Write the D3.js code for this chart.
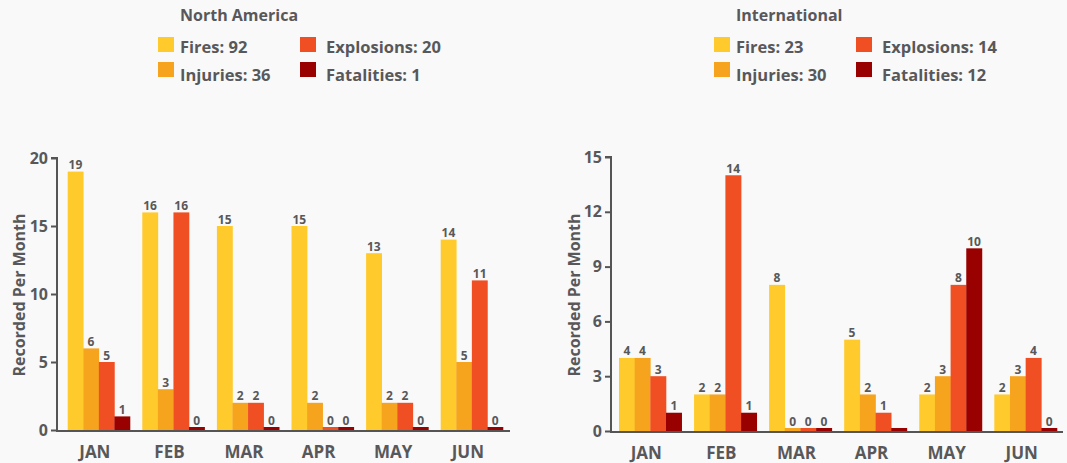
<!DOCTYPE html>
<html><head><meta charset="utf-8">
<script src="https://cdn.jsdelivr.net/npm/d3@7/dist/d3.min.js"></script>
<style>
html,body{margin:0;padding:0;background:#f9f9f9;}
svg{display:block;font-family:"Open Sans",Lato,sans-serif;font-weight:700;}
</style></head><body>
<svg id="c" width="1067" height="463"></svg>
<script>
const months = ["JAN","FEB","MAR","APR","MAY","JUN"];
const seriesNames = ["Fires","Injuries","Explosions","Fatalities"];
const colors = ["#ffca2b","#f6a31e","#f04e23","#990000"];

const naTitle = "North America";
const naTotals = [92, 36, 20, 1];
const naFires = [19, 16, 15, 15, 13, 14];
const naInjuries = [6, 3, 2, 2, 2, 5];
const naExplosions = [5, 16, 2, 0, 2, 11];
const naFatalities = [1, 0, 0, 0, 0, 0];
const naTicks = [0, 5, 10, 15, 20];

const intTitle = "International";
const intTotals = [23, 30, 14, 12];
const intFires = [4, 2, 8, 5, 2, 2];
const intInjuries = [4, 2, 0, 2, 3, 3];
const intExplosions = [3, 14, 0, 1, 8, 4];
const intFatalities = [1, 1, 0, null, 10, 0];
const intTicks = [0, 3, 6, 9, 12, 15];

const svg = d3.select("#c");
const textColor = "#58585a";

function drawLegend(x, title, totals){
  const g = svg.append("g").attr("transform", `translate(${x},0)`);
  g.append("text").attr("x", 22).attr("y", 21).attr("font-size", 16).attr("fill", textColor).text(title);
  [0,1,2,3].forEach(i => {
    const col = i < 2 ? 0 : 1;
    const row = i % 2;
    const sx = col * 142, sy = 37 + row * 25;
    g.append("rect").attr("x", sx).attr("y", sy).attr("width", 16).attr("height", 15).attr("fill", colors[i]);
    g.append("text").attr("x", sx + (col === 0 ? 22 : 26)).attr("y", row === 0 ? 53 : 81)
      .attr("font-size", 16.5).attr("fill", textColor)
      .text(`${seriesNames[i]}: ${totals[i]}`);
  });
}

function drawChart(opts){
  const {axisX, axisEnd, top, bottom, max, ticks, data, bandStart, bandEnd} = opts;
  const g = svg.append("g");
  const y = d3.scaleLinear().domain([0, max]).range([bottom, top]);
  const x0 = d3.scaleBand().domain(months).range([bandStart, bandEnd]).paddingInner(0.165).paddingOuter(0);
  const x1 = d3.scaleBand().domain(d3.range(4)).range([0, x0.bandwidth()]);

  months.forEach((m, mi) => {
    const gg = g.append("g").attr("transform", `translate(${x0(m)},0)`);
    data.forEach((s, si) => {
      const v = s[mi];
      const val = v == null ? 0 : v;
      const yTop = Math.min(y(val), bottom - 3);
      gg.append("rect").attr("x", x1(si)).attr("width", x1.bandwidth() + 0.3)
        .attr("y", yTop).attr("height", bottom - yTop).attr("fill", colors[si]);
      if (v != null) {
        gg.append("text").attr("x", x1(si) + x1.bandwidth()/2).attr("y", yTop - 2.5)
          .attr("text-anchor", "middle").attr("font-size", 12).attr("fill", textColor).text(v);
      }
    });
  });

  const ya = d3.axisLeft(y).tickValues(ticks).tickSize(6).tickPadding(3);
  const yg = g.append("g").attr("transform", `translate(${axisX},0)`).call(ya);
  yg.select(".domain").attr("stroke", "#555").attr("stroke-width", 2).attr("d", `M-6,${top}H0V${bottom}`);
  yg.selectAll(".tick line").attr("stroke", "#555").attr("stroke-width", 2);
  yg.selectAll(".tick text").attr("font-size", 16).attr("fill", textColor)
    .attr("font-family", "'Open Sans', sans-serif").attr("font-weight", 700);

  g.append("line").attr("x1", axisX - 1).attr("x2", axisEnd).attr("y1", bottom + 1).attr("y2", bottom + 1)
    .attr("stroke", "#555").attr("stroke-width", 2);

  months.forEach(m => {
    g.append("text").attr("x", x0(m) + x0.bandwidth()/2 - 4).attr("y", bottom + 28)
      .attr("text-anchor", "middle").attr("font-size", 17).attr("fill", textColor).text(m);
  });

  g.append("text").attr("transform", `translate(${opts.titleX},${(top+bottom)/2 + 1}) rotate(-90)`)
    .attr("text-anchor", "middle").attr("font-size", 16).attr("fill", textColor).text("Recorded Per Month");
}

drawLegend(158, naTitle, naTotals);
drawLegend(714, intTitle, intTotals);

drawChart({axisX: 57, axisEnd: 510, top: 158, bottom: 430, max: 20, ticks: naTicks,
  data: [naFires, naInjuries, naExplosions, naFatalities], bandStart: 67.7, bandEnd: 503, titleX: 25});
drawChart({axisX: 611, axisEnd: 1063, top: 157, bottom: 431, max: 15, ticks: intTicks,
  data: [intFires, intInjuries, intExplosions, intFatalities], bandStart: 619, bandEnd: 1057, titleX: 580});
</script>
</body></html>
